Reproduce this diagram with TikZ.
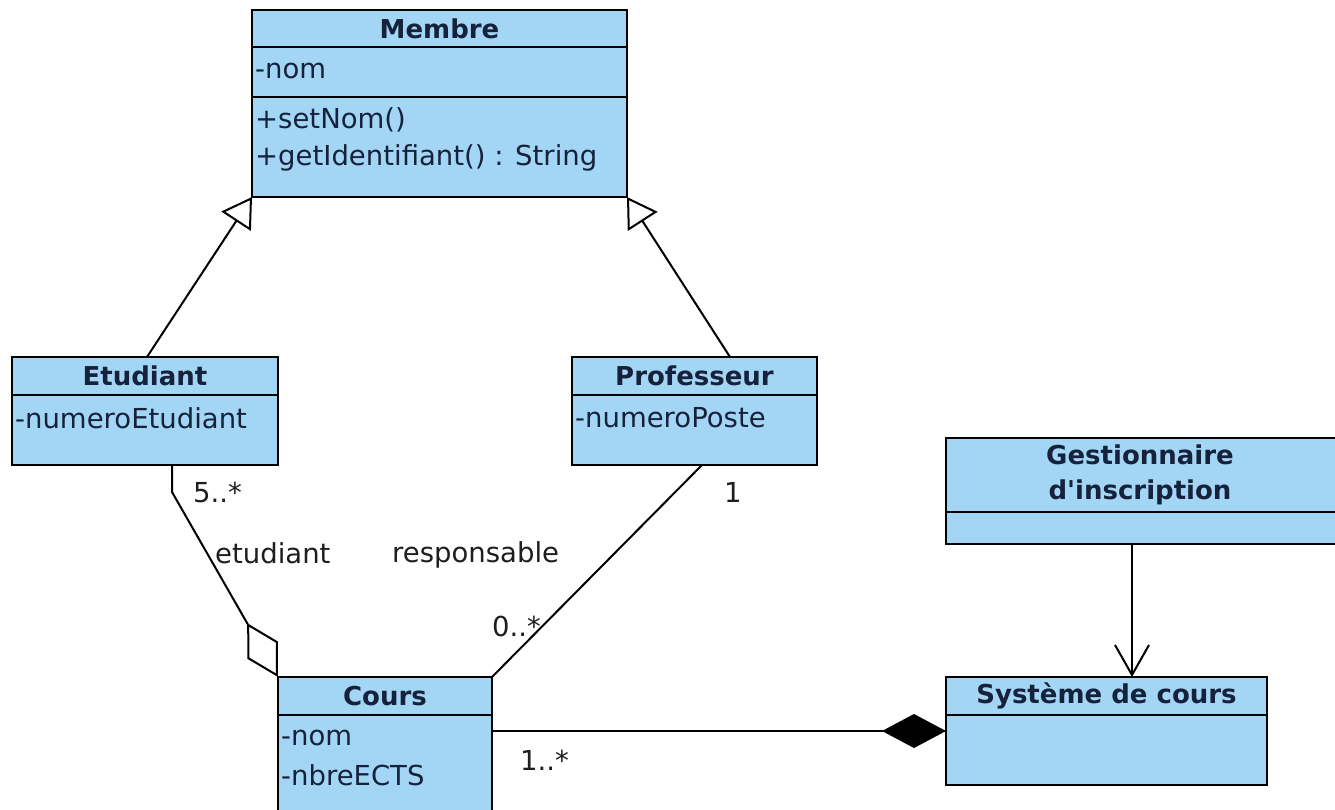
\documentclass[tikz,border=0pt]{standalone}
\usepackage{fontspec}
\newfontfamily\umlfont{DejaVu Sans}
\usetikzlibrary{arrows.meta}
\definecolor{umlblue}{RGB}{163,213,245}
\definecolor{umltext}{RGB}{22,34,60}
\definecolor{labeltext}{RGB}{30,30,30}
\begin{document}
\begin{tikzpicture}[x=1pt,y=-1pt,
  every node/.style={font=\umlfont\fontsize{27.5}{32}\selectfont},
  classbox/.style={draw=black, line width=2pt, fill=umlblue, rectangle,
    inner sep=0pt, outer sep=0pt, anchor=north west},
  sep/.style={draw=black, line width=2pt},
  hdr/.style={text=umltext, font=\umlfont\fontsize{26}{31}\selectfont\bfseries, inner sep=0pt},
  attr/.style={text=umltext, anchor=west, inner sep=0pt},
  lbl/.style={text=labeltext, anchor=west, inner sep=0pt},
  conn/.style={draw=black, line width=2pt},
  inherit/.style={conn, -{Triangle[open, length=29pt, width=35pt, fill=white]}},
  aggreg/.style={conn, -{Diamond[open, length=62pt, width=35pt, fill=white]}},
  compos/.style={conn, -{Diamond[length=64pt, width=34pt]}},
  navig/.style={conn, -{Straight Barb[length=30pt, width=34pt]}}]
\useasboundingbox (0,0) rectangle (1335,809);
\clip (0,0) rectangle (1335,809);

% Membre
\node[classbox, minimum width=375pt, minimum height=187pt] (membre) at (252,10) {};
\draw[sep] ([yshift=-37pt]membre.north west) -- ([yshift=-37pt]membre.north east);
\draw[sep] ([yshift=-87pt]membre.north west) -- ([yshift=-87pt]membre.north east);
\node[hdr] (membreT) at ([yshift=-19pt]membre.north) {Membre};
\node[attr] (membreA1) at (255,71) {-nom};
\node[attr] (membreM1) at (255,120) {+setNom()};
\node[attr] (membreM2) at (255,158) {+getIdentifiant() : String};

% Etudiant
\node[classbox, minimum width=266pt, minimum height=108pt] (etud) at (12,357) {};
\draw[sep] ([yshift=-38pt]etud.north west) -- ([yshift=-38pt]etud.north east);
\node[hdr] (etudT) at ([yshift=-19pt]etud.north) {Etudiant};
\node[attr] (etudA1) at (15,418) {-numeroEtudiant};

% Professeur
\node[classbox, minimum width=245pt, minimum height=108pt] (prof) at (572,357) {};
\draw[sep] ([yshift=-38pt]prof.north west) -- ([yshift=-38pt]prof.north east);
\node[hdr] (profT) at ([yshift=-19pt]prof.north) {Professeur};
\node[attr] (profA1) at (575,418) {-numeroPoste};

% Gestionnaire d'inscription
\node[classbox, minimum width=400pt, minimum height=106pt] (gest) at (946,438) {};
\draw[sep] ([yshift=-74pt]gest.north west) -- ([yshift=-74pt]gest.north east);
\node[hdr] (gestT1) at (1140,455) {Gestionnaire};
\node[hdr] (gestT2) at (1140,492) {d'inscription};

% Systeme de cours
\node[classbox, minimum width=321pt, minimum height=108pt] (sys) at (946,677) {};
\draw[sep] ([yshift=-38pt]sys.north west) -- ([yshift=-38pt]sys.north east);
\node[hdr] (sysT) at ([yshift=-19pt]sys.north) {Système de cours};

% Cours
\node[classbox, minimum width=214pt, minimum height=160pt] (cours) at (278,677) {};
\draw[sep] ([yshift=-38pt]cours.north west) -- ([yshift=-38pt]cours.north east);
\node[hdr] (coursT) at ([yshift=-19pt]cours.north) {Cours};
\node[attr] (coursA1) at (281,738) {-nom};
\node[attr] (coursA2) at (281,775) {-nbreECTS};

% Generalisations
\draw[inherit] ([xshift=135pt]etud.north west) -- (membre.south west);
\draw[inherit] ([xshift=158pt]prof.north west) -- (membre.south east);

% Associations
\draw[aggreg] ([xshift=160pt]etud.south west) -- ++(0,27) -- (cours.north west);
\draw[conn] ([xshift=130pt]prof.south west) -- (cours.north east);
\draw[compos] ([yshift=-54pt]cours.north east) -- ([yshift=-54pt]sys.north west);
\draw[navig] ([xshift=186pt]gest.south west) -- ([xshift=186pt]sys.north west);

% Role names and multiplicities
\node[lbl] (m5) at (193,492) {5..*};
\node[lbl] (rEtud) at (215,553) {etudiant};
\node[lbl] (rResp) at (392,555) {responsable};
\node[lbl] (m0) at (492,626) {0..*};
\node[lbl] (m1) at (724,492) {1};
\node[lbl] (m1s) at (520,760) {1..*};
\end{tikzpicture}
\end{document}
